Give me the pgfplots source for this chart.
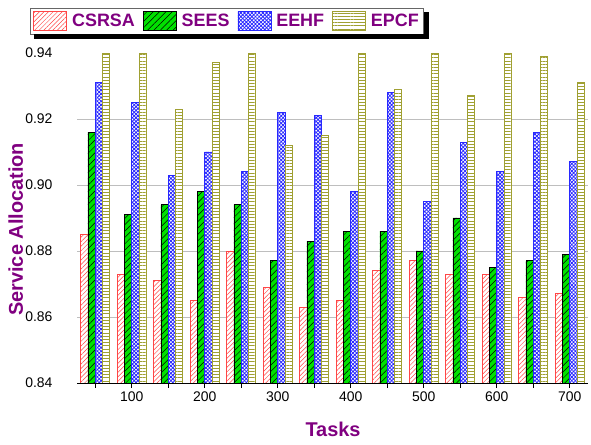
\documentclass[border=0pt]{standalone}
\usepackage{pgfplots}
\usepackage{pgfplotstable}
\pgfplotsset{compat=1.18}
\usepackage{fontspec}
\setmainfont{Liberation Sans}
\usetikzlibrary{patterns,patterns.meta}
\definecolor{lpurple}{RGB}{128,0,128}
\definecolor{cred}{RGB}{255,70,70}
\definecolor{cgreen}{RGB}{0,225,0}
\definecolor{cblue}{RGB}{40,40,255}
\definecolor{colive}{RGB}{160,160,50}
\definecolor{gridgray}{RGB}{190,190,190}
\pgfplotstableread{
x csrsa sees eehf epcf
50 0.885 0.916 0.931 0.940
100 0.873 0.891 0.925 0.940
150 0.871 0.894 0.903 0.923
200 0.865 0.898 0.910 0.937
250 0.880 0.894 0.904 0.940
300 0.869 0.877 0.922 0.912
350 0.863 0.883 0.921 0.915
400 0.865 0.886 0.898 0.940
450 0.874 0.886 0.928 0.929
500 0.877 0.880 0.895 0.940
550 0.873 0.890 0.913 0.927
600 0.873 0.875 0.904 0.940
650 0.866 0.877 0.916 0.939
700 0.867 0.879 0.907 0.931
}\datatable
\begin{document}
\begin{tikzpicture}
\useasboundingbox (0,0) rectangle (591bp,445bp);
\begin{axis}[
  at={(77bp,62bp)}, anchor=south west,
  scale only axis, width=511bp, height=331bp,
  xmin=25, xmax=725, ymin=0.84, ymax=0.9403,
  ybar=0pt, bar width=10,
  axis x line*=bottom, axis y line*=left,
  x axis line style={black, line width=1bp, -},
  y axis line style={draw=none},
  xtick={100,200,300,400,500,600,700},
  minor xtick={50,150,250,350,450,550,650},
  tick align=outside,
  major tick length=5bp, minor tick length=5bp,
  xtick style={black, line width=0.8bp},
  ytick={0.84,0.86,0.88,0.90,0.92,0.94},
  ytick style={draw=none},
  extra y ticks={0.86,0.88,0.90,0.92},
  extra y tick labels={},
  extra y tick style={grid=major},
  major grid style={gridgray, line width=0.9bp},
  ticklabel style={font=\fontsize{14}{16}\selectfont, text=black},
  yticklabel style={anchor=east, xshift=-16bp, /pgf/number format/.cd, fixed, fixed zerofill, precision=2},
  /pgf/number format/assume math mode=true,
  xlabel={Tasks}, ylabel={Service Allocation},
  label style={font=\fontsize{20}{24}\selectfont\bfseries, text=lpurple},
  xlabel style={at={(axis description cs:0.501,-0.163)}, anchor=base},
  ylabel style={at={(axis description cs:-0.120,0.464)}, anchor=center},
  legend columns=4,
  legend style={name=leg, at={(axis description cs:-0.092,1.133)}, anchor=north west,
    draw=black!60, line width=0.7bp, fill=white,
    font=\fontsize{18}{20}\selectfont\bfseries, text=lpurple,
    inner xsep=3bp, inner ysep=3bp,
    /tikz/every odd column/.append style={column sep=3bp},
    /tikz/every even column/.append style={column sep=6bp}},
  legend image code/.code={\draw[#1] (0bp,-9.5bp) rectangle (33bp,9.5bp);},
]
\addplot[draw=cred, fill=white, line width=0.8bp, postaction={pattern={Lines[angle=45, distance=3.2bp, line width=0.5bp]}, pattern color=cred}] table[x=x,y=csrsa]{\datatable};
\addplot[draw=black, fill=cgreen, line width=0.8bp, postaction={pattern={Lines[angle=45, distance=4.5bp, line width=0.5bp]}, pattern color=black}] table[x=x,y=sees]{\datatable};
\addplot[draw=cblue, fill=white, line width=0.8bp, postaction={pattern={Hatch[angle=45, distance=2.6bp, line width=0.8bp]}, pattern color=cblue}] table[x=x,y=eehf]{\datatable};
\addplot[draw=colive, fill=white, line width=0.8bp, postaction={pattern={Lines[angle=0, distance=3.2bp, line width=0.6bp]}, pattern color=colive}] table[x=x,y=epcf]{\datatable};
\legend{CSRSA,SEES,EEHF,EPCF}
\end{axis}
\fill[black] ([xshift=4bp]leg.south west) rectangle ([xshift=5bp,yshift=-5bp]leg.south east);
\fill[black] ([yshift=-4bp]leg.north east) rectangle ([xshift=5bp]leg.south east);
\end{tikzpicture}
\end{document}
